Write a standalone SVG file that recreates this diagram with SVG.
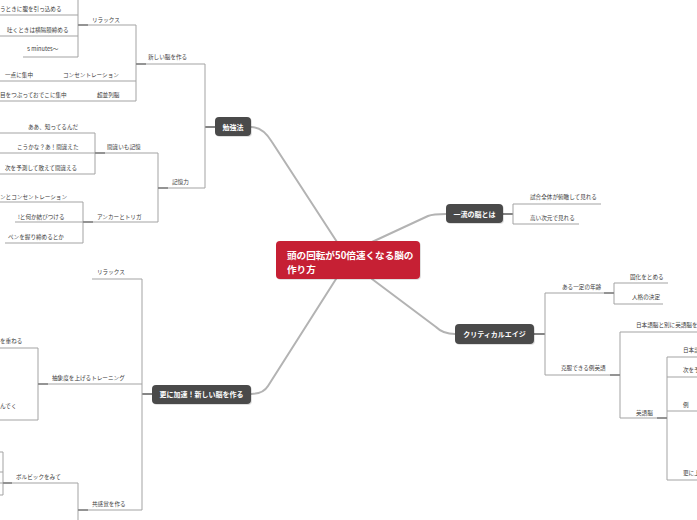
<svg xmlns="http://www.w3.org/2000/svg" width="697" height="520" viewBox="0 0 697 520">
<defs>
<style>
.ln{stroke:#a3a3a3;stroke-width:1;fill:none}
.jn{stroke:#666;stroke-width:1.6;fill:none}
.mc{stroke:#b3b3b3;stroke-width:2;fill:none;stroke-linecap:round;stroke-linejoin:round}
.t{font-family:"Noto Sans CJK JP","Noto Sans",sans-serif;font-size:5.6px;fill:#3a3a3a}
.nt{font-family:"Noto Sans CJK JP","Noto Sans",sans-serif;font-size:7px;font-weight:bold;fill:#fff;text-anchor:middle}
.ct{font-family:"Noto Sans CJK JP","Noto Sans",sans-serif;font-size:9.6px;font-weight:bold;fill:#fff}
.mn{fill:#4a4a4a}
.sh{fill:#000;opacity:0.12}
</style>
</defs>
<rect width="697" height="520" fill="#fff"/>

<g id="connectors">
<path class="mc" d="M337,242 L272,142 Q263,127 251,127"/>
<path class="mc" d="M372,242 L428,216 Q433,214 446,214"/>
<path class="mc" d="M372,279 L436,327 Q443,334 455,334"/>
<path class="mc" d="M336,279 L268,386 Q263,394 251,394"/>
<line class="jn" x1="205" y1="127" x2="215" y2="127"/>
<line class="ln" x1="205" y1="64" x2="205" y2="188"/>
<line class="ln" x1="136" y1="25" x2="136" y2="101"/>
<line class="ln" x1="78" y1="0" x2="78" y2="57"/>
<line class="ln" x1="158" y1="153" x2="158" y2="222"/>
<line class="ln" x1="95" y1="133" x2="95" y2="174"/>
<line class="ln" x1="83" y1="202" x2="83" y2="243"/>
<line class="jn" x1="503" y1="214" x2="513" y2="214"/>
<line class="ln" x1="513" y1="204" x2="513" y2="224"/>
<line class="jn" x1="534" y1="334" x2="545" y2="334"/>
<line class="ln" x1="545" y1="293" x2="545" y2="375"/>
<line class="ln" x1="614" y1="283" x2="614" y2="304"/>
<line class="ln" x1="620" y1="332" x2="620" y2="418"/>
<line class="ln" x1="667" y1="357" x2="667" y2="480"/>
<line class="jn" x1="142" y1="394" x2="152" y2="394"/>
<line class="ln" x1="142" y1="279" x2="142" y2="510"/>
<line class="ln" x1="38" y1="348" x2="38" y2="420"/>
<line class="ln" x1="78" y1="483" x2="78" y2="520"/>
<path class="ln" d="M0,452 H3 V495 H0 M0,472 H3"/>
<line class="jn" x1="136" y1="64" x2="146" y2="64"/>
<line class="jn" x1="78" y1="25" x2="88" y2="25"/>
<line class="jn" x1="158" y1="188" x2="168" y2="188"/>
<line class="jn" x1="95" y1="153" x2="105" y2="153"/>
<line class="jn" x1="83" y1="222" x2="93" y2="222"/>
<line class="jn" x1="604" y1="293" x2="614" y2="293"/>
<line class="jn" x1="610" y1="375" x2="620" y2="375"/>
<line class="jn" x1="657" y1="418" x2="667" y2="418"/>
<line class="jn" x1="38" y1="384" x2="48" y2="384"/>
<line class="jn" x1="78" y1="510" x2="88" y2="510"/>
<line class="jn" x1="3" y1="483" x2="12" y2="483"/>
</g>

<g id="center">
<rect x="277" y="242" width="144" height="38" rx="4" class="sh"/>
<rect x="276" y="241" width="144" height="38" rx="4" fill="#c62034"/>
<text class="ct" x="287" y="258.5">頭の回転が50倍速くなる脳の</text>
<text class="ct" x="287" y="272.5">作り方</text>
</g>

<g id="benkyou">
<rect x="216" y="118" width="36" height="19" rx="4" class="sh"/>
<rect x="215" y="117" width="36" height="19" rx="4" class="mn"/>
<text class="nt" x="233" y="129.5">勉強法</text>
</g>
<g id="ichiryu">
<rect x="447" y="205" width="57" height="19" rx="4" class="sh"/>
<rect x="446" y="204" width="57" height="19" rx="4" class="mn"/>
<text class="nt" x="474.5" y="216.5">一流の脳とは</text>
</g>
<g id="critical">
<rect x="456" y="325" width="79" height="20" rx="4" class="sh"/>
<rect x="455" y="324" width="79" height="20" rx="4" class="mn"/>
<text class="nt" x="494.5" y="336.5">クリティカルエイジ</text>
</g>
<g id="sarani">
<rect x="153" y="386" width="99" height="19" rx="4" class="sh"/>
<rect x="152" y="385" width="99" height="19" rx="4" class="mn"/>
<text class="nt" x="201.5" y="397">更に加速！新しい脳を作る</text>
</g>

<g id="n_atarashii"><line class="ln" x1="136" y1="64" x2="205" y2="64"/><text class="t" x="148" y="59">新しい脳を作る</text></g>
<g id="n_relax1"><line class="ln" x1="78" y1="25" x2="136" y2="25"/><text class="t" x="92" y="22">リラックス</text></g>
<g id="n_r1"><line class="ln" x1="0" y1="15" x2="78" y2="15"/><text class="t" x="0" y="11">うときに腹を引っ込める</text></g>
<g id="n_r2"><line class="ln" x1="0" y1="36" x2="78" y2="36"/><text class="t" x="7" y="32">吐くときは横隔膜締める</text></g>
<g id="n_r3"><line class="ln" x1="23" y1="57" x2="78" y2="57"/><text class="t" x="27" y="51">5 minutes～</text></g>
<g id="n_conc"><line class="ln" x1="46" y1="81" x2="136" y2="81"/><text class="t" x="63" y="77">コンセントレーション</text></g>
<g id="n_itten"><line class="ln" x1="0" y1="81" x2="46" y2="81"/><text class="t" x="5" y="77">一点に集中</text></g>
<g id="n_chou"><line class="ln" x1="70" y1="101" x2="136" y2="101"/><text class="t" x="97" y="97">超並列脳</text></g>
<g id="n_me"><line class="ln" x1="0" y1="101" x2="70" y2="101"/><text class="t" x="0" y="97">目をつぶっておでこに集中</text></g>

<g id="n_kioku"><line class="ln" x1="158" y1="188" x2="205" y2="188"/><text class="t" x="172" y="184">記憶力</text></g>
<g id="n_machigai"><line class="ln" x1="95" y1="153" x2="158" y2="153"/><text class="t" x="107" y="149">間違いも記憶</text></g>
<g id="n_aa"><line class="ln" x1="0" y1="133" x2="95" y2="133"/><text class="t" x="28" y="129">ああ、知ってるんだ</text></g>
<g id="n_kouka"><line class="ln" x1="0" y1="153" x2="95" y2="153"/><text class="t" x="17" y="149">こうかな？あ！間違えた</text></g>
<g id="n_tsugi"><line class="ln" x1="0" y1="174" x2="95" y2="174"/><text class="t" x="5" y="170">次を予測して敢えて間違える</text></g>
<g id="n_anchor"><line class="ln" x1="83" y1="222" x2="158" y2="222"/><text class="t" x="97" y="219">アンカーとトリガ</text></g>
<g id="n_nto"><line class="ln" x1="0" y1="202" x2="83" y2="202"/><text class="t" x="0" y="199">ンとコンセントレーション</text></g>
<g id="n_nani"><line class="ln" x1="15" y1="222" x2="83" y2="222"/><text class="t" x="18" y="219">!と何か結びつける</text></g>
<g id="n_pen"><line class="ln" x1="5" y1="243" x2="83" y2="243"/><text class="t" x="8" y="239">ペンを握り締めるとか</text></g>

<g id="n_shiai"><line class="ln" x1="513" y1="204" x2="601" y2="204"/><text class="t" x="530" y="199">試合全体が俯瞰して見れる</text></g>
<g id="n_takai"><line class="ln" x1="513" y1="224" x2="579" y2="224"/><text class="t" x="530" y="220">高い次元で見れる</text></g>

<g id="n_aru"><line class="ln" x1="545" y1="293" x2="614" y2="293"/><text class="t" x="562" y="289">ある一定の年齢</text></g>
<g id="n_koka"><line class="ln" x1="614" y1="283" x2="668" y2="283"/><text class="t" x="630" y="279">固化をとめる</text></g>
<g id="n_jinkaku"><line class="ln" x1="614" y1="304" x2="663" y2="304"/><text class="t" x="632" y="299">人格の決定</text></g>
<g id="n_kokufuku"><line class="ln" x1="545" y1="375" x2="620" y2="375"/><text class="t" x="561" y="370">克服できる例英語</text></g>
<g id="n_nihongo"><line class="ln" x1="620" y1="332" x2="697" y2="332"/><text class="t" x="636" y="327">日本語脳と別に英語脳を</text></g>
<g id="n_eigo"><line class="ln" x1="620" y1="418" x2="667" y2="418"/><text class="t" x="636" y="415">英語脳</text></g>
<g id="n_e1"><line class="ln" x1="667" y1="357" x2="697" y2="357"/><text class="t" x="683" y="352">日本語</text></g>
<g id="n_e2"><line class="ln" x1="667" y1="377" x2="697" y2="377"/><text class="t" x="683" y="372">次を予</text></g>
<g id="n_e3"><line class="ln" x1="667" y1="411" x2="697" y2="411"/><text class="t" x="683" y="407">例</text></g>
<g id="n_e4"><line class="ln" x1="667" y1="480" x2="697" y2="480"/><text class="t" x="683" y="475">更に上</text></g>

<g id="n_relax2"><line class="ln" x1="92" y1="279" x2="142" y2="279"/><text class="t" x="97" y="274">リラックス</text></g>
<g id="n_chusho"><line class="ln" x1="38" y1="384" x2="142" y2="384"/><text class="t" x="52" y="380">抽象度を上げるトレーニング</text></g>
<g id="n_kasaneru"><line class="ln" x1="0" y1="348" x2="38" y2="348"/><text class="t" x="0" y="343">を重ねる</text></g>
<g id="n_ndeku"><line class="ln" x1="0" y1="420" x2="38" y2="420"/><text class="t" x="0" y="408">んでく</text></g>
<g id="n_kyokan"><line class="ln" x1="78" y1="510" x2="142" y2="510"/><text class="t" x="92" y="506">共感覚を作る</text></g>
<g id="n_volvic"><line class="ln" x1="0" y1="483" x2="78" y2="483"/><text class="t" x="16" y="479">ボルビックをみて</text></g>
</svg>
